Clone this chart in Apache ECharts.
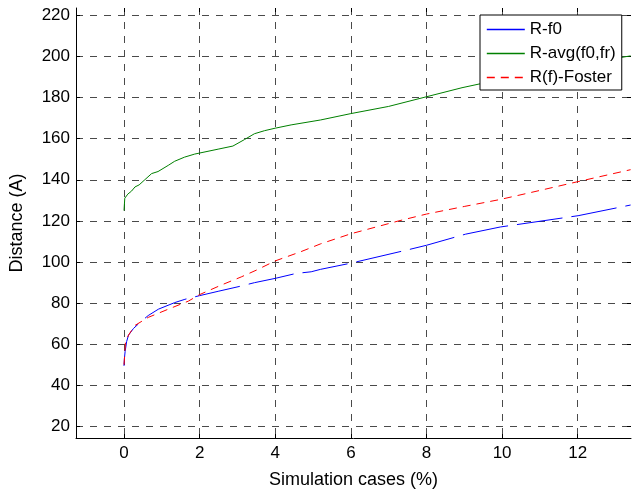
<!DOCTYPE html>
<html>
<head>
<meta charset="utf-8">
<script src="https://cdn.jsdelivr.net/npm/echarts@6/dist/echarts.min.js"></script>
<style>html,body{margin:0;padding:0;background:#fff}#c{width:638px;height:494px}</style>
</head>
<body>
<div id="c"></div>
<script>
const seriesNames = ['R-f0', 'R-avg(f0,fr)', 'R(f)-Foster'];
const xTicks = [0, 2, 4, 6, 8, 10, 12];
const yTicks = [20, 40, 60, 80, 100, 120, 140, 160, 180, 200, 220];

const f0X = [0, 0.01, 0.03, 0.07, 0.12, 0.25, 0.45, 0.64, 0.91, 1.34, 1.61, 2, 2.49, 3.06, 3.45, 4, 4.55, 4.95, 5.2, 6, 7.53, 8, 9.03, 9.95, 11, 12.01, 13.4];
const f0Y = [49.4, 53, 56.5, 61.3, 64.4, 67.6, 71, 73.9, 77, 80.2, 81.8, 83.6, 85.7, 88.1, 89.9, 92, 94.4, 95.2, 96.4, 99.4, 106, 108.1, 113.5, 117, 119.8, 122.5, 127.7];

const avgX = [0, 0.02, 0.1, 0.2, 0.29, 0.4, 0.55, 0.73, 0.9, 1.17, 1.34, 1.6, 1.87, 2, 2.49, 2.88, 3.19, 3.45, 3.72, 4, 4.42, 5.2, 6, 7, 8, 8.94, 9.42, 10, 11, 12, 13.4];
const avgY = [125, 131, 133, 134.5, 136.5, 137.5, 140, 143, 144, 147, 149, 151, 152.5, 153, 154.9, 156.4, 159.6, 162.4, 163.9, 165.1, 166.7, 169.1, 172.2, 175.7, 180.4, 184.8, 186.7, 189, 192.5, 196, 200.3];

const fosX = [0, 0.02, 0.04, 0.12, 0.29, 0.64, 1.17, 1.7, 2, 2.58, 3.1, 3.5, 4, 4.68, 5.2, 6, 7.27, 8, 9, 9.95, 11, 12.01, 13.4];
const fosY = [50, 55, 61.3, 64.4, 69.1, 73, 77, 80.9, 84.1, 88.8, 92.7, 96, 100.5, 105, 108.8, 113.7, 120, 123.3, 127, 130.4, 134.8, 139.1, 144.9];

function pairs(xs, ys) { return xs.map((x, i) => [x, ys[i]]); }

const font = 'Liberation Sans';
const colors = ['#0000ff', '#008000', '#ff0000'];
const chart = echarts.init(document.getElementById('c'), null, { renderer: 'canvas' });
const gridLine = { show: true, lineStyle: { color: '#4a4a4a', width: 1, type: [7, 7] } };

chart.setOption({
  animation: false,
  backgroundColor: '#fff',
  grid: { left: 74, right: 7, top: 8, bottom: 45, containLabel: false },
  legend: {
    left: 480, top: 15,
    orient: 'vertical',
    backgroundColor: '#fff',
    borderColor: '#000', borderWidth: 1,
    padding: [6, 6, 4, 6],
    itemWidth: 38, itemHeight: 16, itemGap: 7,
    itemStyle: { opacity: 0 },
    textStyle: { fontFamily: font, fontSize: 17, color: '#000' },
    data: [
      { name: seriesNames[0], lineStyle: { color: colors[0], type: 'solid', width: 1.4 } },
      { name: seriesNames[1], lineStyle: { color: colors[1], type: 'solid', width: 1.6 } },
      { name: seriesNames[2], lineStyle: { color: colors[2], type: [8, 6], width: 1.4 } }
    ]
  },
  xAxis: [{
    type: 'value', min: -1.27, max: 13.41,
    name: 'Simulation cases (%)', nameLocation: 'middle', nameGap: 33,
    nameTextStyle: { fontFamily: font, fontSize: 18, color: '#000' },
    axisLine: { show: true, onZero: false, lineStyle: { color: '#000', width: 1 } },
    axisTick: { show: true, inside: true, length: 4, customValues: xTicks, lineStyle: { color: '#000' } },
    axisLabel: { customValues: xTicks, fontFamily: font, fontSize: 17, color: '#000', margin: 7 },
    splitLine: gridLine
  }, {
    type: 'value', min: -1.27, max: 13.41, position: 'top',
    axisLine: { show: false, onZero: false },
    axisTick: { show: true, inside: true, length: 4, customValues: xTicks, lineStyle: { color: '#000' } },
    axisLabel: { show: false },
    splitLine: { show: false }
  }],
  yAxis: [{
    type: 'value', min: 14.3, max: 223.6,
    name: 'Distance (A)', nameLocation: 'middle', nameGap: 50, nameRotate: 90,
    nameTextStyle: { fontFamily: font, fontSize: 18, color: '#000' },
    axisLine: { show: true, onZero: false, lineStyle: { color: '#000', width: 1 } },
    axisTick: { show: true, inside: true, length: 4, customValues: yTicks, lineStyle: { color: '#000' } },
    axisLabel: { customValues: yTicks, fontFamily: font, fontSize: 17, color: '#000', margin: 6 },
    splitLine: gridLine
  }, {
    type: 'value', min: 14.3, max: 223.6, position: 'right',
    axisLine: { show: false, onZero: false },
    axisTick: { show: true, inside: true, length: 4, customValues: yTicks, lineStyle: { color: '#000' } },
    axisLabel: { show: false },
    splitLine: { show: false }
  }],
  series: [
    { name: seriesNames[0], type: 'line', data: pairs(f0X, f0Y), showSymbol: false, symbol: 'none',
      lineStyle: { color: colors[0], width: 1, type: [46, 9] }, itemStyle: { color: colors[0] }, z: 4 },
    { name: seriesNames[1], type: 'line', data: pairs(avgX, avgY), showSymbol: false, symbol: 'none',
      lineStyle: { color: colors[1], width: 1 }, itemStyle: { color: colors[1] }, z: 3 },
    { name: seriesNames[2], type: 'line', data: pairs(fosX, fosY), showSymbol: false, symbol: 'none',
      lineStyle: { color: colors[2], width: 1, type: [8, 6] }, itemStyle: { color: colors[2] }, z: 5 }
  ]
});
</script>
</body>
</html>
